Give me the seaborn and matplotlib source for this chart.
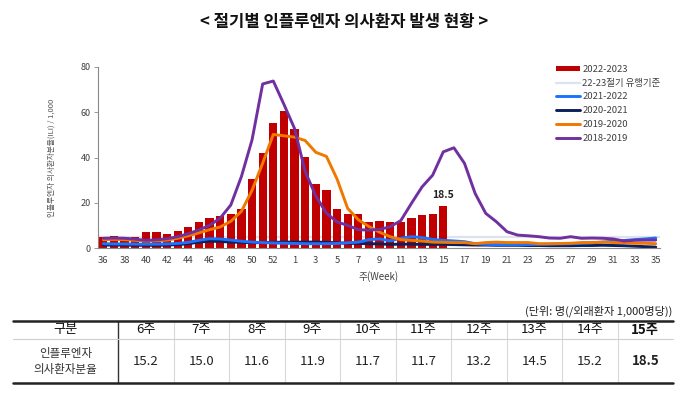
import numpy as np
import pandas as pd
import matplotlib
matplotlib.use("Agg")
import matplotlib.pyplot as plt
import seaborn as sns

sns.set_style("white")
plt.rcParams['font.family'] = ['Noto Sans CJK KR', 'DejaVu Sans']

#------------------------------ 데이터 ------------------------------------------------------------#
weeks = [str(w) for w in list(range(36, 54)) + list(range(1, 36))]

# 2022-2023 절기 (36주 ~ 15주)
season_2223 = [4.9, 5.2, 4.8, 4.8, 7.0, 7.0, 6.3, 7.7, 9.3, 11.3, 13.2, 14.2, 15.0, 17.2,
               30.3, 41.9, 55.4, 60.7, 52.5, 40.2, 28.5, 25.6, 17.1, 15.2, 15.0, 11.6,
               11.9, 11.7, 11.7, 13.2, 14.5, 15.2, 18.5]

season_2122 = [1.9, 1.8, 1.8, 1.7, 1.7, 1.7, 1.8, 2.0, 2.5, 3.4, 4.1, 4.0, 3.5, 3.0, 2.6,
               2.4, 2.2, 2.1, 2.0, 1.9, 1.9, 1.9, 2.0, 2.3, 2.6, 3.7, 4.0, 3.2, 4.3, 5.0,
               4.6, 3.8, 3.4, 3.1, 2.8, 1.9, 1.6, 1.5, 1.5, 1.5, 1.5, 1.6, 1.7, 1.8, 1.9,
               2.1, 2.3, 2.6, 3.0, 3.3, 3.7, 4.0, 4.4]

season_2021 = [1.3, 1.3, 1.3, 1.2, 1.2, 1.2, 1.3, 1.5, 1.9, 2.6, 3.0, 2.9, 2.6, 2.5, 2.3,
               2.4, 2.5, 2.6, 2.6, 2.6, 2.6, 2.5, 2.3, 2.1, 2.0, 1.9, 1.8, 1.6, 1.7, 1.7,
               1.6, 1.6, 1.6, 1.5, 1.4, 1.3, 1.3, 1.2, 1.2, 1.2, 1.1, 1.1, 1.0, 1.0, 1.0,
               1.1, 1.1, 1.2, 1.1, 1.0, 0.8, 0.6, 0.4]

season_1920 = [3.7, 3.8, 3.7, 3.4, 3.1, 3.2, 3.5, 4.3, 5.4, 6.7, 8.1, 9.3, 11.8, 16.2,
               25.5, 37.5, 50.2, 49.6, 49.0, 47.5, 42.3, 40.5, 30.5, 17.5, 12.5, 9.5,
               7.0, 5.0, 3.7, 3.4, 3.1, 2.6, 2.5, 2.4, 2.4, 1.9, 2.4, 2.6, 2.4, 2.4, 2.4,
               1.9, 1.9, 2.0, 2.1, 2.4, 2.4, 2.6, 2.4, 2.4, 2.1, 2.1, 1.9]

season_1819 = [4.3, 4.4, 4.3, 3.9, 3.4, 3.6, 4.1, 5.0, 6.3, 8.0, 10.0, 13.2, 19.0, 31.6,
               47.8, 72.5, 73.8, 63.5, 52.8, 33.8, 23.0, 15.4, 11.5, 10.0, 8.1, 7.9, 8.2,
               9.4, 12.1, 19.7, 27.0, 32.2, 42.5, 44.3, 37.4, 24.1, 15.3, 11.6, 7.2, 5.7,
               5.4, 5.0, 4.4, 4.3, 5.0, 4.3, 4.4, 4.3, 4.0, 3.1, 3.4, 3.5, 3.5]

threshold_2223 = 4.9

table_weeks = ['6', '7', '8', '9', '10', '11', '12', '13', '14', '15']

#------------------------------ 그래프 ------------------------------------------------------------#
fig = plt.figure(figsize=(7, 4), dpi=100)
ax = fig.add_axes([98 / 700, 1 - 248 / 400, 562 / 700, 181 / 400])

bar_df = pd.DataFrame({'week': weeks[:len(season_2223)], 'ili': season_2223})
pos = np.arange(len(weeks))

ax.axhline(threshold_2223, color='#dde3ee', lw=1.6, zorder=0.5, label='22-23절기 유행기준')
sns.barplot(data=bar_df, x='week', y='ili', order=weeks, color='#c00000', width=0.78,
            saturation=1, edgecolor='none', label='2022-2023', ax=ax)

sns.lineplot(x=pos, y=season_2021, color='#0b1f5c', lw=2.1, label='2020-2021', ax=ax)
sns.lineplot(x=pos, y=season_2122, color='#1a72ff', lw=2.1, label='2021-2022', ax=ax)
sns.lineplot(x=pos, y=season_1920, color='#f07800', lw=2.1, label='2019-2020', ax=ax)
sns.lineplot(x=pos, y=season_1819, color='#7030a0', lw=2.1, label='2018-2019', ax=ax)

# 마지막 주 값 표시
last = len(season_2223) - 1
ax.annotate(f"{season_2223[last]}", xy=(last, season_2223[last]), xytext=(0, 8),
            textcoords='offset points', ha='center', va='center',
            fontsize=7.5, fontweight='bold', color='#222222')

ax.set_xlim(-0.5, len(weeks) - 0.6)
ax.set_ylim(0, 80)
ax.set_yticks([0, 20, 40, 60, 80])
ax.set_xticks(pos)
ax.set_xticklabels([w if i % 2 == 0 else '' for i, w in enumerate(weeks)])
ax.tick_params(axis='x', length=2, width=0.6, color='#888888', pad=4,
               labelsize=6.8, labelcolor='#404040')
ax.tick_params(axis='y', length=3, width=0.6, color='#888888', pad=2,
               labelsize=6.5, labelcolor='#404040', left=True)
for s in ['top', 'right']:
    ax.spines[s].set_visible(False)
for s in ['left', 'bottom']:
    ax.spines[s].set_color('#888888')
    ax.spines[s].set_linewidth(0.8)

ax.set_xlabel("주(Week)", fontsize=7, color='#404040', labelpad=4)
ax.set_ylabel("인플루엔자 의사환자분율(ILI) / 1,000", fontsize=5.5, color='#555555')
ax.yaxis.set_label_coords(-0.075, 0.5)

handles, labels = ax.get_legend_handles_labels()
hmap = dict(zip(labels, handles))
order = ['2022-2023', '22-23절기 유행기준', '2021-2022', '2020-2021', '2019-2020', '2018-2019']
leg = ax.legend([hmap[k] for k in order], order, loc='upper left',
                bbox_to_anchor=(556 / 700, 1 - 65 / 400), bbox_transform=fig.transFigure,
                frameon=False, fontsize=6.8, handlelength=2.5, handletextpad=0.3,
                handleheight=0.5, labelspacing=0.5, borderpad=0, borderaxespad=0)
for t in leg.get_texts():
    t.set_color('#404040')

fig.text(0.492, 1 - 22 / 400, "< 절기별 인플루엔자 의사환자 발생 현황 >",
         ha='center', va='center', fontsize=12, fontweight='bold', color='#111111')

#------------------------------ 표 ------------------------------------------------------------#
lookup = dict(zip(weeks, season_2223))
header = ['구분'] + [w + '주' for w in table_weeks]
row = ['인플루엔자\n의사환자분율'] + [f"{lookup[w]:.1f}" for w in table_weeks]

fig.text(672 / 700, 1 - 311 / 400, "(단위: 명(/외래환자 1,000명당))",
         ha='right', va='center', fontsize=8, color='#222222')

tax = fig.add_axes([12.7 / 700, 1 - 383.3 / 400, 660.3 / 700, 62.6 / 400])
tax.axis('off')
col_w = [105.6] + [55.47] * len(table_weeks)
tbl = tax.table(cellText=[header, row], cellLoc='center', bbox=[0, 0, 1, 1],
                colWidths=[c / sum(col_w) for c in col_w])
tbl.auto_set_font_size(False)
n = len(header)
for c in range(n):
    h = tbl[0, c]
    d = tbl[1, c]
    h.set_height(18.6)
    d.set_height(44)
    h.visible_edges = 'open'
    d.visible_edges = 'open'
    h.set_facecolor('#fff2cc' if c == n - 1 else '#efefef')
    d.set_facecolor('#fff2cc' if c == n - 1 else 'white')
    h.get_text().set_fontsize(9.5)
    h.get_text().set_color('#111111')
    d.get_text().set_fontsize(9.5)
    d.get_text().set_color('#222222')
    if c == n - 1:
        h.get_text().set_fontweight('bold')
        d.get_text().set_fontweight('bold')
tbl[1, 0].get_text().set_fontsize(8.3)
tbl[1, 0].get_text().set_color('#333333')
tbl[1, 0].get_text().set_linespacing(1.3)

# 표 선
hfrac = 44 / (44 + 18.6)
edges = np.cumsum(col_w) / sum(col_w)
for i, xe in enumerate(edges[:-1]):
    if i == 0:
        tax.plot([xe, xe], [0, 1], color='#333333', lw=1, transform=tax.transAxes, clip_on=False)
    else:
        tax.plot([xe, xe], [0, 1], color='#d9d9d9', lw=0.8, transform=tax.transAxes, clip_on=False)
tax.plot([0, 1], [hfrac, hfrac], color='#cfcfcf', lw=0.8, transform=tax.transAxes, clip_on=False)
tax.plot([0, 1], [1, 1], color='#222222', lw=1.8, transform=tax.transAxes, clip_on=False)
tax.plot([0, 1], [0, 0], color='#222222', lw=1.8, transform=tax.transAxes, clip_on=False)

fig.savefig("out.png", dpi=100)
